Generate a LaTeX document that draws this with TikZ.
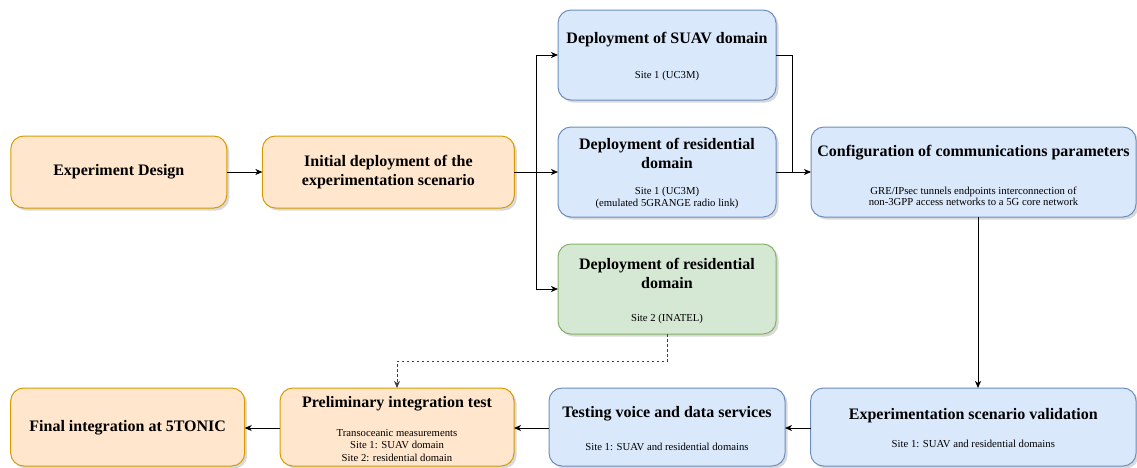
\documentclass[tikz,border=0pt]{standalone}
\usepackage{fontspec}
\setmainfont{Liberation Serif}
\usetikzlibrary{arrows.meta,shadows}
\definecolor{ofill}{HTML}{FFE6CC}
\definecolor{odraw}{HTML}{D79B00}
\definecolor{bfill}{HTML}{DAE8FC}
\definecolor{bdraw}{HTML}{6C8EBF}
\definecolor{gfill}{HTML}{D5E8D4}
\definecolor{gdraw}{HTML}{82B366}
\tikzset{
  box/.style={rectangle, rounded corners=13pt, line width=1pt, inner sep=0pt, outer sep=0pt,
    drop shadow={shadow xshift=2.5pt, shadow yshift=-2.5pt, opacity=0.25, fill=black!60}},
  obox/.style={box, fill=ofill, draw=odraw},
  bbox/.style={box, fill=bfill, draw=bdraw},
  gbox/.style={box, fill=gfill, draw=gdraw},
  ttl/.style={inner sep=0pt, align=center, font=\fontsize{16}{19}\selectfont\bfseries},
  sub/.style={inner sep=0pt, align=center, font=\fontsize{10.7}{11.5}\selectfont},
  arr/.style={line width=1pt, -{Stealth[length=7pt,width=6pt,inset=2pt]}},
  ln/.style={line width=1pt},
  dsh/.style={arr, draw=black!75, dash pattern=on 2.5pt off 2.5pt}
}
\begin{document}
\begin{tikzpicture}[x=1pt,y=-1pt]
\useasboundingbox (0,0) rectangle (1137,467);
% boxes
\node[obox, minimum width=216pt, minimum height=72pt] (exp) at (118.8,172) {};
\node[obox, minimum width=252pt, minimum height=72pt] (init) at (388.4,172) {};
\node[bbox, minimum width=218pt, minimum height=90pt] (suav) at (667,55) {};
\node[bbox, minimum width=218pt, minimum height=90pt] (res1) at (667,172) {};
\node[gbox, minimum width=218pt, minimum height=90pt] (green) at (667,289) {};
\node[bbox, minimum width=325pt, minimum height=90pt] (config) at (973.5,172) {};
\node[bbox, minimum width=325.5pt, minimum height=78pt] (valid) at (973.3,427) {};
\node[bbox, minimum width=236pt, minimum height=78pt] (test) at (667,427) {};
\node[obox, minimum width=234pt, minimum height=78pt] (prelim) at (397,427) {};
\node[obox, minimum width=234pt, minimum height=78pt] (final) at (127.7,427) {};
% texts
\node[ttl] (expT) at (118.8,172) {Experiment Design};
\node[ttl] (initT) at (388.4,172.5) {Initial deployment of the\\experimentation scenario};
\node[ttl] (suavT) at (667,40) {Deployment of SUAV domain};
\node[sub] (suavS) at (667,76) {Site 1 (UC3M)};
\node[ttl] (res1T) at (667,153.5) {Deployment of residential\\domain};
\node[sub] (res1S) at (667,198) {Site 1 (UC3M)\\(emulated 5GRANGE radio link)};
\node[ttl] (greenT) at (667,273) {Deployment of residential\\domain};
\node[sub] (greenS) at (667,319) {Site 2 (INATEL)};
\node[ttl] (configT) at (973.5,153) {Configuration of communications parameters};
\node[sub] (configS) at (973.5,196.5) {GRE/IPsec tunnels endpoints interconnection of\\non-3GPP access networks to a 5G core network};
\node[ttl] (validT) at (973.3,416) {Experimentation scenario validation};
\node[sub] (validS) at (973.3,444) {Site 1: SUAV and residential domains};
\node[ttl] (testT) at (667,413.5) {Testing voice and data services};
\node[sub] (testS) at (667,447) {Site 1: SUAV and residential domains};
\node[ttl] (prelimT) at (397,403.5) {Preliminary integration test};
\node[sub, font=\fontsize{10.7}{12.5}\selectfont] (prelimS) at (397,445.5) {Transoceanic measurements\\Site 1: SUAV domain\\Site 2: residential domain};
\node[ttl] (finalT) at (127.7,428) {Final integration at 5TONIC};
% connectors
\coordinate (br) at (536.5,172);
\coordinate (mg) at (792.7,172);
\draw[arr] (exp) -- (init);
\draw[arr] (init) -- (res1);
\draw[arr] (br) |- (suav);
\draw[arr] (br) |- (green);
\draw[ln] (suav.east) -| (mg);
\draw[arr] (res1) -- (config);
\draw[arr] ([xshift=4.5pt]config.south) -- ([xshift=4.7pt]valid.north);
\draw[arr] ([yshift=-1pt]valid.west) -- ([yshift=-1pt]test.east);
\draw[arr] ([yshift=-1pt]test.west) -- ([yshift=-1pt]prelim.east);
\draw[arr] ([yshift=-1pt]prelim.west) -- ([yshift=-1pt]final.east);
\draw[dsh] (green.south) -- ++(0,27.4) -| (prelim.north);
\end{tikzpicture}
\end{document}
